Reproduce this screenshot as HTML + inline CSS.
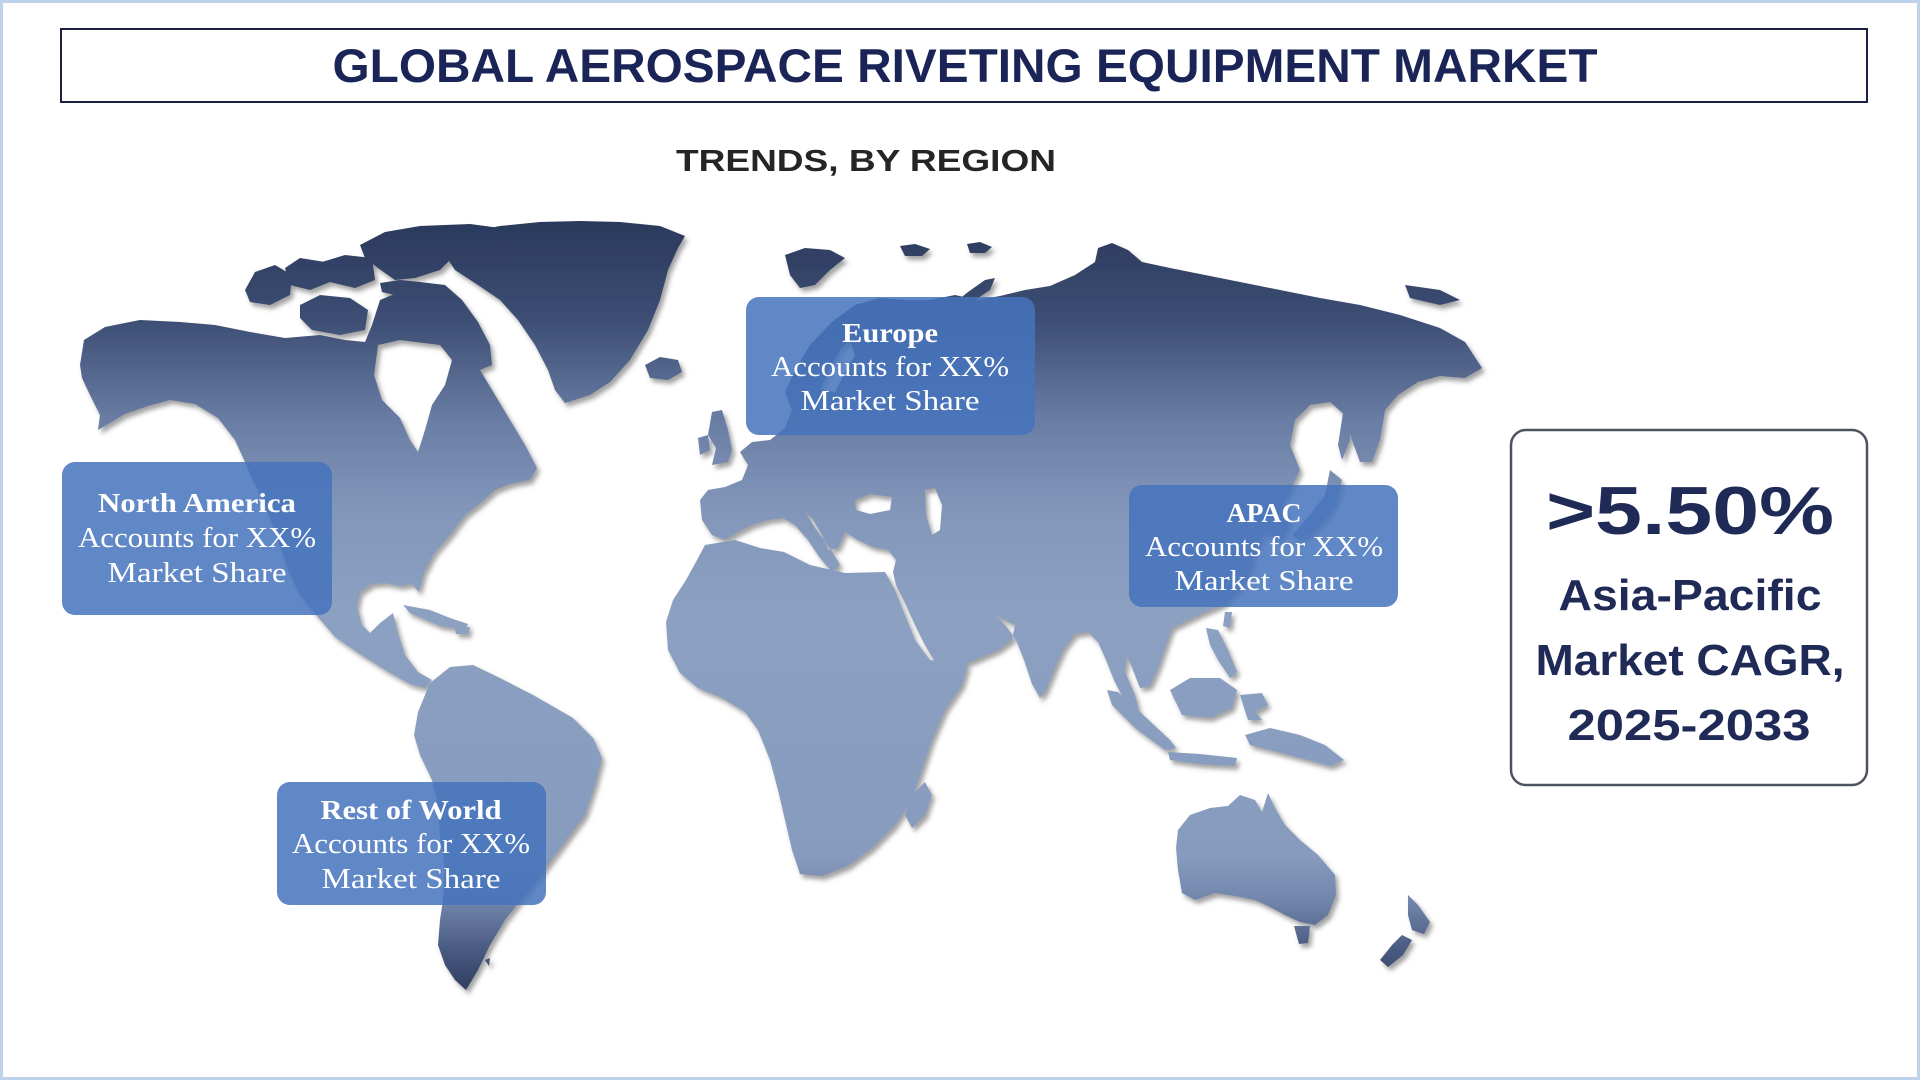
<!DOCTYPE html>
<html>
<head>
<meta charset="utf-8">
<style>
html,body{margin:0;padding:0;background:#fff;}
body{width:1920px;height:1080px;overflow:hidden;}
svg{display:block;}
</style>
</head>
<body>
<svg width="1920" height="1080" viewBox="0 0 1920 1080" xmlns="http://www.w3.org/2000/svg">
<defs>
<linearGradient id="land" gradientUnits="userSpaceOnUse" x1="0" y1="220" x2="0" y2="995">
<stop offset="0" stop-color="#2a395b"/>
<stop offset="0.13" stop-color="#3d4e74"/>
<stop offset="0.26" stop-color="#6a7ea5"/>
<stop offset="0.37" stop-color="#8296ba"/>
<stop offset="0.5" stop-color="#8ca0c2"/>
<stop offset="0.82" stop-color="#879bbe"/>
<stop offset="0.88" stop-color="#7184aa"/>
<stop offset="0.94" stop-color="#4a5b81"/>
<stop offset="1" stop-color="#2c3b5e"/>
</linearGradient>
<filter id="sh" x="-5%" y="-5%" width="110%" height="110%">
<feDropShadow dx="3" dy="4" stdDeviation="2.5" flood-color="#555" flood-opacity="0.55"/>
</filter>
</defs>

<rect x="1.5" y="1.5" width="1917" height="1077" fill="#fff" stroke="#bed3ea" stroke-width="3"/>

<!-- Title -->
<rect x="61" y="29" width="1806" height="73" fill="#fff" stroke="#1c2143" stroke-width="2"/>
<text x="965" y="82" text-anchor="middle" font-family="Liberation Sans, Arial, sans-serif" font-weight="bold" font-size="47" fill="#1a2456" textLength="1265" lengthAdjust="spacingAndGlyphs">GLOBAL AEROSPACE RIVETING EQUIPMENT MARKET</text>

<text x="866" y="171" text-anchor="middle" font-family="Liberation Sans, Arial, sans-serif" font-weight="bold" font-size="31" fill="#252525" textLength="380" lengthAdjust="spacingAndGlyphs">TRENDS, BY REGION</text>

<!-- Map -->
<g fill="url(#land)" filter="url(#sh)">
<!-- North America -->
<path fill-rule="evenodd" d="M80,365 L84,340 L105,327 L140,320 L180,322 L215,325 L250,332 L285,338 L320,335 L345,340 L365,342 L372,325 L380,300 L392,295 L400,290 L420,282 L445,285 L462,300 L478,322 L490,345 L492,365 L480,370 L495,395 L510,420 L525,445 L537,468 L530,480 L510,484 L495,490 L478,505 L465,515 L450,535 L435,552 L424,572 L419,592 L412,584 L400,586 L385,583 L372,584 L360,592 L357,607 L362,625 L370,633 L380,623 L393,613 L398,633 L405,655 L418,672 L432,680 L425,688 L410,684 L387,671 L360,654 L335,637 L318,617 L300,595 L288,570 L278,540 L265,505 L252,478 L245,462 L235,440 L218,418 L195,404 L170,400 L148,406 L125,414 L98,430 L100,415 L90,395 L82,378 Z
M378,345 L400,340 L440,345 L452,360 L445,385 L432,405 L425,430 L418,452 L410,440 L400,418 L382,400 L374,375 Z"/>
<!-- Arctic islands -->
<polygon points="245,290 255,272 275,265 292,275 290,295 270,305 250,302"/>
<polygon points="285,268 300,258 325,262 330,282 310,290 290,285"/>
<polygon points="300,305 320,295 350,298 368,310 365,330 340,335 312,330 300,318"/>
<polygon points="322,262 345,255 372,258 375,280 355,288 330,282"/>
<polygon points="360,245 385,232 420,226 470,224 500,228 480,240 455,255 440,270 415,278 395,280 378,268 365,258"/>
<polygon points="380,283 400,280 420,282 415,292 395,295 382,292"/>
<!-- Greenland -->
<polygon points="470,232 500,226 540,222 580,221 620,222 660,226 685,236 678,248 668,270 660,300 648,330 630,360 610,382 590,395 565,403 555,390 548,370 535,345 518,320 500,300 478,285 455,270 445,255 455,242"/>
<!-- Iceland -->
<polygon points="645,365 660,357 678,360 682,372 668,380 650,378"/>
<!-- Svalbard etc -->
<polygon points="785,255 805,248 830,250 845,258 830,270 815,285 800,288 790,275"/>
<polygon points="900,246 915,244 930,249 922,256 905,256"/>
<polygon points="967,244 980,242 992,247 985,253 970,253"/>
<polygon points="995,278 990,290 975,300 960,310 948,322 942,318 952,305 968,292 985,280"/>
<polygon points="1405,285 1440,290 1460,300 1440,305 1410,298"/>
<!-- UK / Ireland -->
<polygon points="712,412 722,410 728,430 732,450 728,462 712,465 716,448 708,435"/>
<polygon points="698,438 708,435 710,450 700,455"/>
<!-- Eurasia -->
<path fill-rule="evenodd" d="M712,535 L702,520 L700,500 L708,490 L725,487 L742,480 L748,465 L740,452 L752,442 L770,440 L785,428 L792,410 L785,392 L795,370 L810,345 L832,322 L855,305 L880,298 L905,300 L930,300 L955,295 L978,300 L1000,296 L1025,290 L1050,286 L1075,275 L1095,262 L1098,248 L1112,243 L1128,250 L1142,262 L1170,268 L1200,274 L1240,282 L1280,290 L1320,298 L1360,305 L1400,315 L1440,328 L1465,342 L1482,368 L1465,378 L1440,376 L1418,382 L1398,395 L1385,410 L1380,440 L1372,462 L1360,462 L1352,440 L1345,415 L1330,402 L1310,405 L1295,420 L1290,445 L1300,470 L1290,490 L1282,505 L1290,522 L1280,540 L1265,532 L1255,548 L1250,570 L1238,590 L1222,605 L1205,612 L1188,620 L1172,628 L1165,648 L1158,668 L1150,686 L1140,688 L1133,670 L1127,655 L1125,672 L1135,695 L1142,722 L1134,720 L1124,700 L1114,680 L1106,660 L1098,642 L1088,632 L1075,634 L1064,648 L1055,668 L1046,690 L1040,698 L1032,684 L1024,660 L1016,640 L1006,626 L994,614 L986,610 L1000,618 L1015,625 L1012,640 L998,650 L982,657 L965,664 L948,667 L935,662 L925,645 L915,625 L905,603 L896,585 L893,572 L896,560 L888,550 L872,547 L858,540 L845,532 L838,548 L828,550 L822,535 L812,518 L805,512 L815,528 L830,548 L840,565 L832,572 L820,558 L808,540 L795,525 L783,518 L768,520 L752,525 L738,532 L725,540 Z
M855,500 L870,494 L892,497 L890,510 L870,514 L856,510 Z
M925,490 L935,488 L942,505 L940,530 L932,535 L926,515 Z
M820,390 L828,370 L840,350 L850,340 L855,355 L845,372 L835,392 Z"/>
<!-- Africa -->
<path fill-rule="evenodd" d="M705,545 L735,540 L760,548 L784,552 L810,565 L845,573 L885,572 L895,590 L905,615 L915,640 L930,660 L968,665 L962,685 L945,710 L932,740 L922,770 L912,800 L895,825 L872,848 L848,866 L822,876 L800,874 L792,850 L785,820 L778,790 L770,760 L758,730 L745,712 L722,698 L698,688 L680,673 L668,650 L666,622 L673,600 L686,580 L697,560 Z"/>
<polygon points="925,782 932,795 925,815 912,828 905,815 912,795"/>
<!-- Japan / Sakhalin -->
<polygon points="1330,470 1342,480 1335,505 1320,525 1300,540 1292,535 1310,515 1325,495"/>
<polygon points="1345,400 1352,402 1350,440 1342,460 1338,445"/>
<polygon points="1225,612 1232,612 1230,628 1223,626"/>
<!-- SE Asia islands -->
<polygon points="1107,690 1118,692 1140,712 1170,740 1176,748 1165,750 1135,728 1112,705"/>
<polygon points="1170,690 1190,678 1220,678 1237,690 1232,708 1210,718 1182,715"/>
<polygon points="1168,752 1200,754 1237,758 1235,766 1200,764 1170,760"/>
<polygon points="1240,695 1262,693 1268,705 1255,712 1262,720 1248,720"/>
<polygon points="1206,628 1218,630 1228,650 1237,672 1230,678 1218,660 1210,645"/>
<polygon points="1245,735 1270,728 1300,735 1325,745 1344,760 1330,766 1300,758 1270,750 1250,745"/>
<!-- Australia -->
<polygon points="1178,830 1190,815 1210,808 1228,806 1240,795 1255,800 1262,812 1268,793 1275,808 1285,825 1300,840 1318,855 1335,875 1336,895 1328,915 1315,925 1300,922 1285,915 1272,908 1255,900 1235,896 1215,893 1195,900 1182,893 1178,870 1176,848"/>
<polygon points="1294,926 1310,926 1308,943 1299,944"/>
<!-- New Zealand -->
<polygon points="1408,895 1418,905 1430,922 1424,934 1412,930 1408,915"/>
<polygon points="1402,935 1412,940 1403,955 1388,967 1380,960 1392,945"/>
<!-- Caribbean -->
<polygon points="403,605 430,610 450,618 468,624 465,630 440,626 410,613"/>
<polygon points="455,628 470,627 468,634 456,634"/>
<!-- South America -->
<polygon points="430,683 450,667 473,665 500,678 533,695 573,718 593,738 602,758 595,785 585,815 570,835 555,855 540,875 522,898 505,920 490,945 478,970 466,990 455,980 445,965 438,945 440,920 443,900 445,870 440,835 437,800 432,780 420,755 414,735 418,712 425,695"/>
<polygon points="485,960 490,958 489,966"/>
</g>

<!-- Region boxes -->
<g font-family="Liberation Serif, 'Times New Roman', serif" fill="#fff" text-anchor="middle">
<rect x="62" y="462" width="270" height="153" rx="13" fill="#4673bd" fill-opacity="0.86"/>
<text x="197" y="512" font-size="27" font-weight="bold" textLength="198" lengthAdjust="spacingAndGlyphs">North America</text>
<text x="197" y="547" font-size="28" textLength="238" lengthAdjust="spacingAndGlyphs">Accounts for XX%</text>
<text x="197" y="582" font-size="28" textLength="179" lengthAdjust="spacingAndGlyphs">Market Share</text>

<rect x="746" y="297" width="289" height="138" rx="13" fill="#4673bd" fill-opacity="0.86"/>
<text x="890" y="342" font-size="27" font-weight="bold" textLength="96" lengthAdjust="spacingAndGlyphs">Europe</text>
<text x="890" y="376" font-size="28" textLength="238" lengthAdjust="spacingAndGlyphs">Accounts for XX%</text>
<text x="890" y="410" font-size="28" textLength="179" lengthAdjust="spacingAndGlyphs">Market Share</text>

<rect x="1129" y="485" width="269" height="122" rx="13" fill="#4673bd" fill-opacity="0.86"/>
<text x="1264" y="522" font-size="27" font-weight="bold" textLength="75" lengthAdjust="spacingAndGlyphs">APAC</text>
<text x="1264" y="556" font-size="28" textLength="238" lengthAdjust="spacingAndGlyphs">Accounts for XX%</text>
<text x="1264" y="590" font-size="28" textLength="179" lengthAdjust="spacingAndGlyphs">Market Share</text>

<rect x="277" y="782" width="269" height="123" rx="13" fill="#4673bd" fill-opacity="0.86"/>
<text x="411" y="819" font-size="27" font-weight="bold" textLength="181" lengthAdjust="spacingAndGlyphs">Rest of World</text>
<text x="411" y="853" font-size="28" textLength="238" lengthAdjust="spacingAndGlyphs">Accounts for XX%</text>
<text x="411" y="888" font-size="28" textLength="179" lengthAdjust="spacingAndGlyphs">Market Share</text>
</g>

<!-- CAGR box -->
<rect x="1511" y="430" width="356" height="355" rx="15" fill="#fff" stroke="#4d5261" stroke-width="2.5"/>
<g font-family="Liberation Sans, Arial, sans-serif" font-weight="bold" fill="#1f2a56" text-anchor="middle">
<text x="1690" y="534" font-size="68" textLength="288" lengthAdjust="spacingAndGlyphs">&gt;5.50%</text>
<text x="1690" y="610" font-size="44" textLength="263" lengthAdjust="spacingAndGlyphs">Asia-Pacific</text>
<text x="1690" y="675" font-size="44" textLength="309" lengthAdjust="spacingAndGlyphs">Market CAGR,</text>
<text x="1689" y="740" font-size="44" textLength="243" lengthAdjust="spacingAndGlyphs">2025-2033</text>
</g>
</svg>
</body>
</html>
